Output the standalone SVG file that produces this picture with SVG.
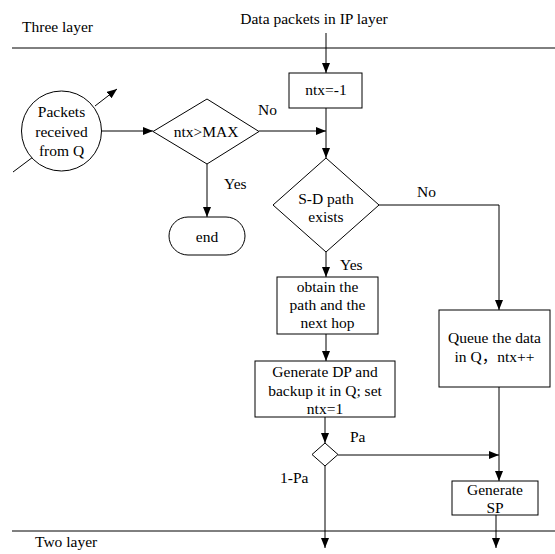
<svg xmlns="http://www.w3.org/2000/svg" width="555" height="554" viewBox="0 0 555 554" font-family="'Liberation Serif', 'Times New Roman', 'Noto Sans CJK SC', serif">
<style>
text{font-family:'Liberation Serif','Times New Roman','Noto Sans CJK SC',serif;font-size:15.5px;fill:#000}
.c{text-anchor:middle}
.s{fill:#fff;stroke:#000;stroke-width:1}
.l{fill:none;stroke:#000;stroke-width:1}
</style>
<defs>
<marker id="ah" markerUnits="userSpaceOnUse" markerWidth="11" markerHeight="9" refX="10" refY="4" orient="auto">
<path d="M0,0 L10,4 L0,8 z" fill="#000"/>
</marker>
</defs>
<rect width="555" height="554" fill="#fff"/>
<g id="layers">
<line class="l" x1="12" y1="48" x2="555" y2="48"/>
<line class="l" x1="12" y1="531" x2="555" y2="531"/>
<text x="22" y="32">Three layer</text>
<text x="35" y="547">Two layer</text>
<text class="c" x="314" y="24">Data packets in IP layer</text>
</g>
<g id="connectors">
<path class="l" d="M326,33 L326,73" marker-end="url(#ah)"/>
<path class="l" d="M326,108 L326,158" marker-end="url(#ah)"/>
<path class="l" d="M101,131 L153,131" marker-end="url(#ah)"/>
<path class="l" d="M259,131 L326,131" marker-end="url(#ah)"/>
<path class="l" d="M207,164 L207,217" marker-end="url(#ah)"/>
<path class="l" d="M379,205 L499,205 L499,310" marker-end="url(#ah)"/>
<path class="l" d="M326,252 L326,277" marker-end="url(#ah)"/>
<path class="l" d="M326,334 L326,361" marker-end="url(#ah)"/>
<path class="l" d="M325,417 L325,443" marker-end="url(#ah)"/>
<path class="l" d="M338,455 L499,455" marker-end="url(#ah)"/>
<path class="l" d="M499,387 L499,481" marker-end="url(#ah)"/>
<path class="l" d="M325,466 L325,548" marker-end="url(#ah)"/>
<path class="l" d="M496,515 L496,548" marker-end="url(#ah)"/>
<path class="l" d="M95,106 L117,89" marker-end="url(#ah)"/>
<path class="l" d="M13,172 L33,157"/>
<text x="258" y="115">No</text>
<text x="224" y="189">Yes</text>
<text x="417" y="197">No</text>
<text x="340" y="270">Yes</text>
<text x="350" y="442">Pa</text>
<text x="280" y="483">1-Pa</text>
</g>
<g id="packets">
<circle class="s" cx="61.5" cy="131" r="40"/>
<text class="c" x="61.5" y="117">Packets</text>
<text class="c" x="61.5" y="137">received</text>
<text class="c" x="61.5" y="156">from Q</text>
</g>
<g id="ntxinit">
<rect class="s" x="289" y="73" width="73" height="35"/>
<text class="c" x="326" y="95">ntx=-1</text>
</g>
<g id="ntxmax">
<path class="s" d="M153,131.5 L207,99 L259,131.5 L207,164 z"/>
<text class="c" x="206" y="137">ntx&gt;MAX</text>
</g>
<g id="end">
<rect class="s" x="169" y="217" width="76" height="38" rx="19" ry="19"/>
<text class="c" x="207" y="242">end</text>
</g>
<g id="sdpath">
<path class="s" d="M273,205 L326,158 L379,205 L326,252 z"/>
<text class="c" x="326" y="204">S-D path</text>
<text class="c" x="326" y="222">exists</text>
</g>
<g id="obtain">
<rect class="s" x="277" y="277" width="101" height="57"/>
<text class="c" x="327.5" y="292">obtain the</text>
<text class="c" x="327.5" y="310">path and the</text>
<text class="c" x="327.5" y="328">next hop</text>
</g>
<g id="generatedp">
<rect class="s" x="255" y="361" width="140" height="56"/>
<text class="c" x="325" y="377">Generate DP and</text>
<text class="c" x="325" y="396">backup it in Q; set</text>
<text class="c" x="325" y="414">ntx=1</text>
</g>
<g id="pa">
<path class="s" d="M312,454.5 L325,443 L338,454.5 L325,466 z"/>
</g>
<g id="queue">
<rect class="s" x="439" y="310" width="111" height="77"/>
<text class="c" x="494.5" y="343">Queue the data</text>
<text class="c" x="494.5" y="362">in Q，ntx++</text>
</g>
<g id="generatesp">
<rect class="s" x="452" y="481" width="86" height="34"/>
<text class="c" x="495" y="495">Generate</text>
<text class="c" x="495" y="513">SP</text>
</g>
</svg>
